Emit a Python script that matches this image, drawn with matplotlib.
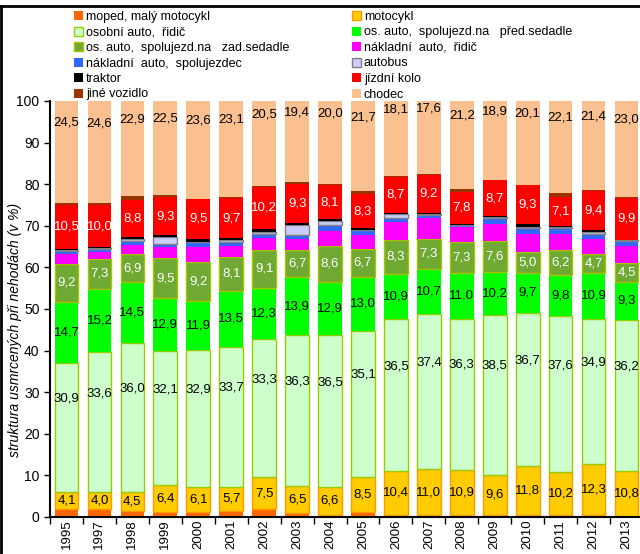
import numpy as np
import matplotlib.pyplot as plt
from matplotlib.lines import Line2D

plt.rcParams['font.family'] = ['Liberation Sans', 'DejaVu Sans']

years = ['1995', '1997', '1998', '1999', '2000', '2001', '2002', '2003', '2004',
         '2005', '2006', '2007', '2008', '2009', '2010', '2011', '2012', '2013']

moped = [2.0, 2.0, 1.4, 1.3, 1.1, 1.5, 2.0, 0.9, 0.6, 1.2, 0.6, 0.5, 0.5, 0.5, 0.5, 0.5, 0.5, 0.3]
motocykl = [4.1, 4.0, 4.5, 6.4, 6.1, 5.7, 7.5, 6.5, 6.6, 8.5, 10.4, 11.0, 10.9, 9.6, 11.8, 10.2, 12.3, 10.8]
osobni_ridic = [30.9, 33.6, 36.0, 32.1, 32.9, 33.7, 33.3, 36.3, 36.5, 35.1, 36.5, 37.4, 36.3, 38.5, 36.7, 37.6, 34.9, 36.2]
spolujezd_pred = [14.7, 15.2, 14.5, 12.9, 11.9, 13.5, 12.3, 13.9, 12.9, 13.0, 10.9, 10.7, 11.0, 10.2, 9.7, 9.8, 10.9, 9.3]
spolujezd_zad = [9.2, 7.3, 6.9, 9.5, 9.2, 8.1, 9.1, 6.7, 8.6, 6.7, 8.3, 7.3, 7.3, 7.6, 5.0, 6.2, 4.7, 4.5]
nakladni_ridic = [2.4, 1.6, 2.2, 2.6, 3.6, 2.6, 2.8, 2.6, 3.6, 3.4, 4.2, 5.0, 3.7, 4.1, 4.4, 3.7, 3.6, 4.0]
nakladni_spol = [0.7, 0.7, 0.9, 0.8, 1.2, 0.9, 1.0, 0.9, 1.3, 1.1, 0.9, 0.8, 0.6, 1.4, 1.3, 1.4, 1.2, 1.2]
autobus = [0.2, 0.3, 0.5, 1.6, 0.2, 0.5, 0.5, 2.5, 1.1, 0.1, 1.0, 0.1, 0.0, 0.2, 0.3, 0.4, 0.3, 0.3]
traktor = [0.3, 0.2, 0.4, 0.5, 0.7, 0.5, 0.7, 0.4, 0.4, 0.3, 0.3, 0.3, 0.1, 0.2, 0.8, 0.1, 0.6, 0.1]
jizdni_kolo = [10.5, 10.0, 8.8, 9.3, 9.5, 9.7, 10.2, 9.3, 8.1, 8.3, 8.7, 9.2, 7.8, 8.7, 9.3, 7.1, 9.4, 9.9]
jine = [0.5, 0.5, 1.0, 0.5, 0.0, 0.2, 0.1, 0.6, 0.3, 0.6, 0.1, 0.1, 0.6, 0.1, 0.1, 0.9, 0.2, 0.4]
chodec = [24.5, 24.6, 22.9, 22.5, 23.6, 23.1, 20.5, 19.4, 20.0, 21.7, 18.1, 17.6, 21.2, 18.9, 20.1, 22.1, 21.4, 23.0]

names = ['moped, malý motocykl', 'motocykl', 'osobní auto,  řidič',
         'os. auto,  spolujezd.na   před.sedadle', 'os. auto,  spolujezd.na   zad.sedadle',
         'nákladní  auto,  řidič', 'nákladní  auto,  spolujezdec', 'autobus',
         'traktor', 'jízdní kolo', 'jiné vozidlo', 'chodec']
data = [moped, motocykl, osobni_ridic, spolujezd_pred, spolujezd_zad, nakladni_ridic,
        nakladni_spol, autobus, traktor, jizdni_kolo, jine, chodec]

colors = ['#FF6600', '#FFCC00', '#CCFFCC', '#00FF00', '#6FA832', '#FF00FF',
          '#3366FF', '#CCCCFF', '#000000', '#FF0000', '#993300', '#FAC090']
edges = [None, '#FF9900', '#99CC00', None, '#A8C400', None,
         None, '#808080', None, None, None, None]
# label colour and extra vertical offset (None = no labels)
label_style = [None, ('black', 0), ('black', 7), ('black', 0), ('white', 0), None,
               None, None, None, ('white', 0), None, ('black', 7)]

fig = plt.figure(figsize=(6.4, 5.54), dpi=100)
ax = fig.add_axes([50/640, 37/554, 593/640, 416/554])

x = np.arange(len(years))
bottom = np.zeros(len(years))
handles = []
for vals, name, c, e, ls in zip(data, names, colors, edges, label_style):
    vals = np.array(vals)
    if e is None:
        b = ax.bar(x, vals, 0.72, bottom=bottom, color=c, linewidth=0, label=name)
    else:
        b = ax.bar(x, vals, 0.72, bottom=bottom, color=c, edgecolor=e, linewidth=1, label=name)
    handles.append(b)
    if ls is not None:
        for xi, v, b0 in zip(x, vals, bottom):
            ax.text(xi, b0 + v/2 + ls[1], f"{v:.1f}".replace('.', ','), ha='center', va='center',
                    fontsize=9.5, color=ls[0])
    bottom = bottom + vals

ax.set_xlim(-0.5, len(years) - 0.5)
ax.set_ylim(0, 100)
ax.set_yticks(range(0, 101, 10))
ax.set_xticks(x)
ax.set_xticklabels(years, rotation=90, fontsize=9.5)
ax.set_xticks(np.arange(-0.5, len(years), 1), minor=True)
ax.tick_params(axis='x', which='major', length=0, pad=2)
ax.tick_params(axis='x', which='minor', length=5, width=1)
ax.tick_params(axis='y', labelsize=10, length=4, width=1)
for s in ['top', 'right']:
    ax.spines[s].set_visible(False)
ax.spines['left'].set_linewidth(1.5)
ax.spines['bottom'].set_linewidth(1.5)
ax.set_ylabel('struktura usmrcených při nehodách (v %)', style='italic', fontsize=10)
ax.yaxis.set_label_coords(-0.047, 0.45)

fig.legend(handles[0::2], names[0::2], loc='upper left', bbox_to_anchor=(74/640, 1 - 11/554),
           ncol=1, frameon=False, fontsize=9, labelspacing=0.28, handlelength=0.7,
           handleheight=0.7, handletextpad=0.25, borderpad=0, borderaxespad=0)
fig.legend(handles[1::2], names[1::2], loc='upper left', bbox_to_anchor=(352/640, 1 - 11/554),
           ncol=1, frameon=False, fontsize=9, labelspacing=0.28, handlelength=0.7,
           handleheight=0.7, handletextpad=0.25, borderpad=0, borderaxespad=0)

fig.add_artist(Line2D([0, 1], [1 - 6/554, 1 - 6/554], color='black', lw=2))
fig.add_artist(Line2D([1/640, 1/640], [0, 1 - 6/554], color='black', lw=2))

fig.savefig('out.png', dpi=100)
